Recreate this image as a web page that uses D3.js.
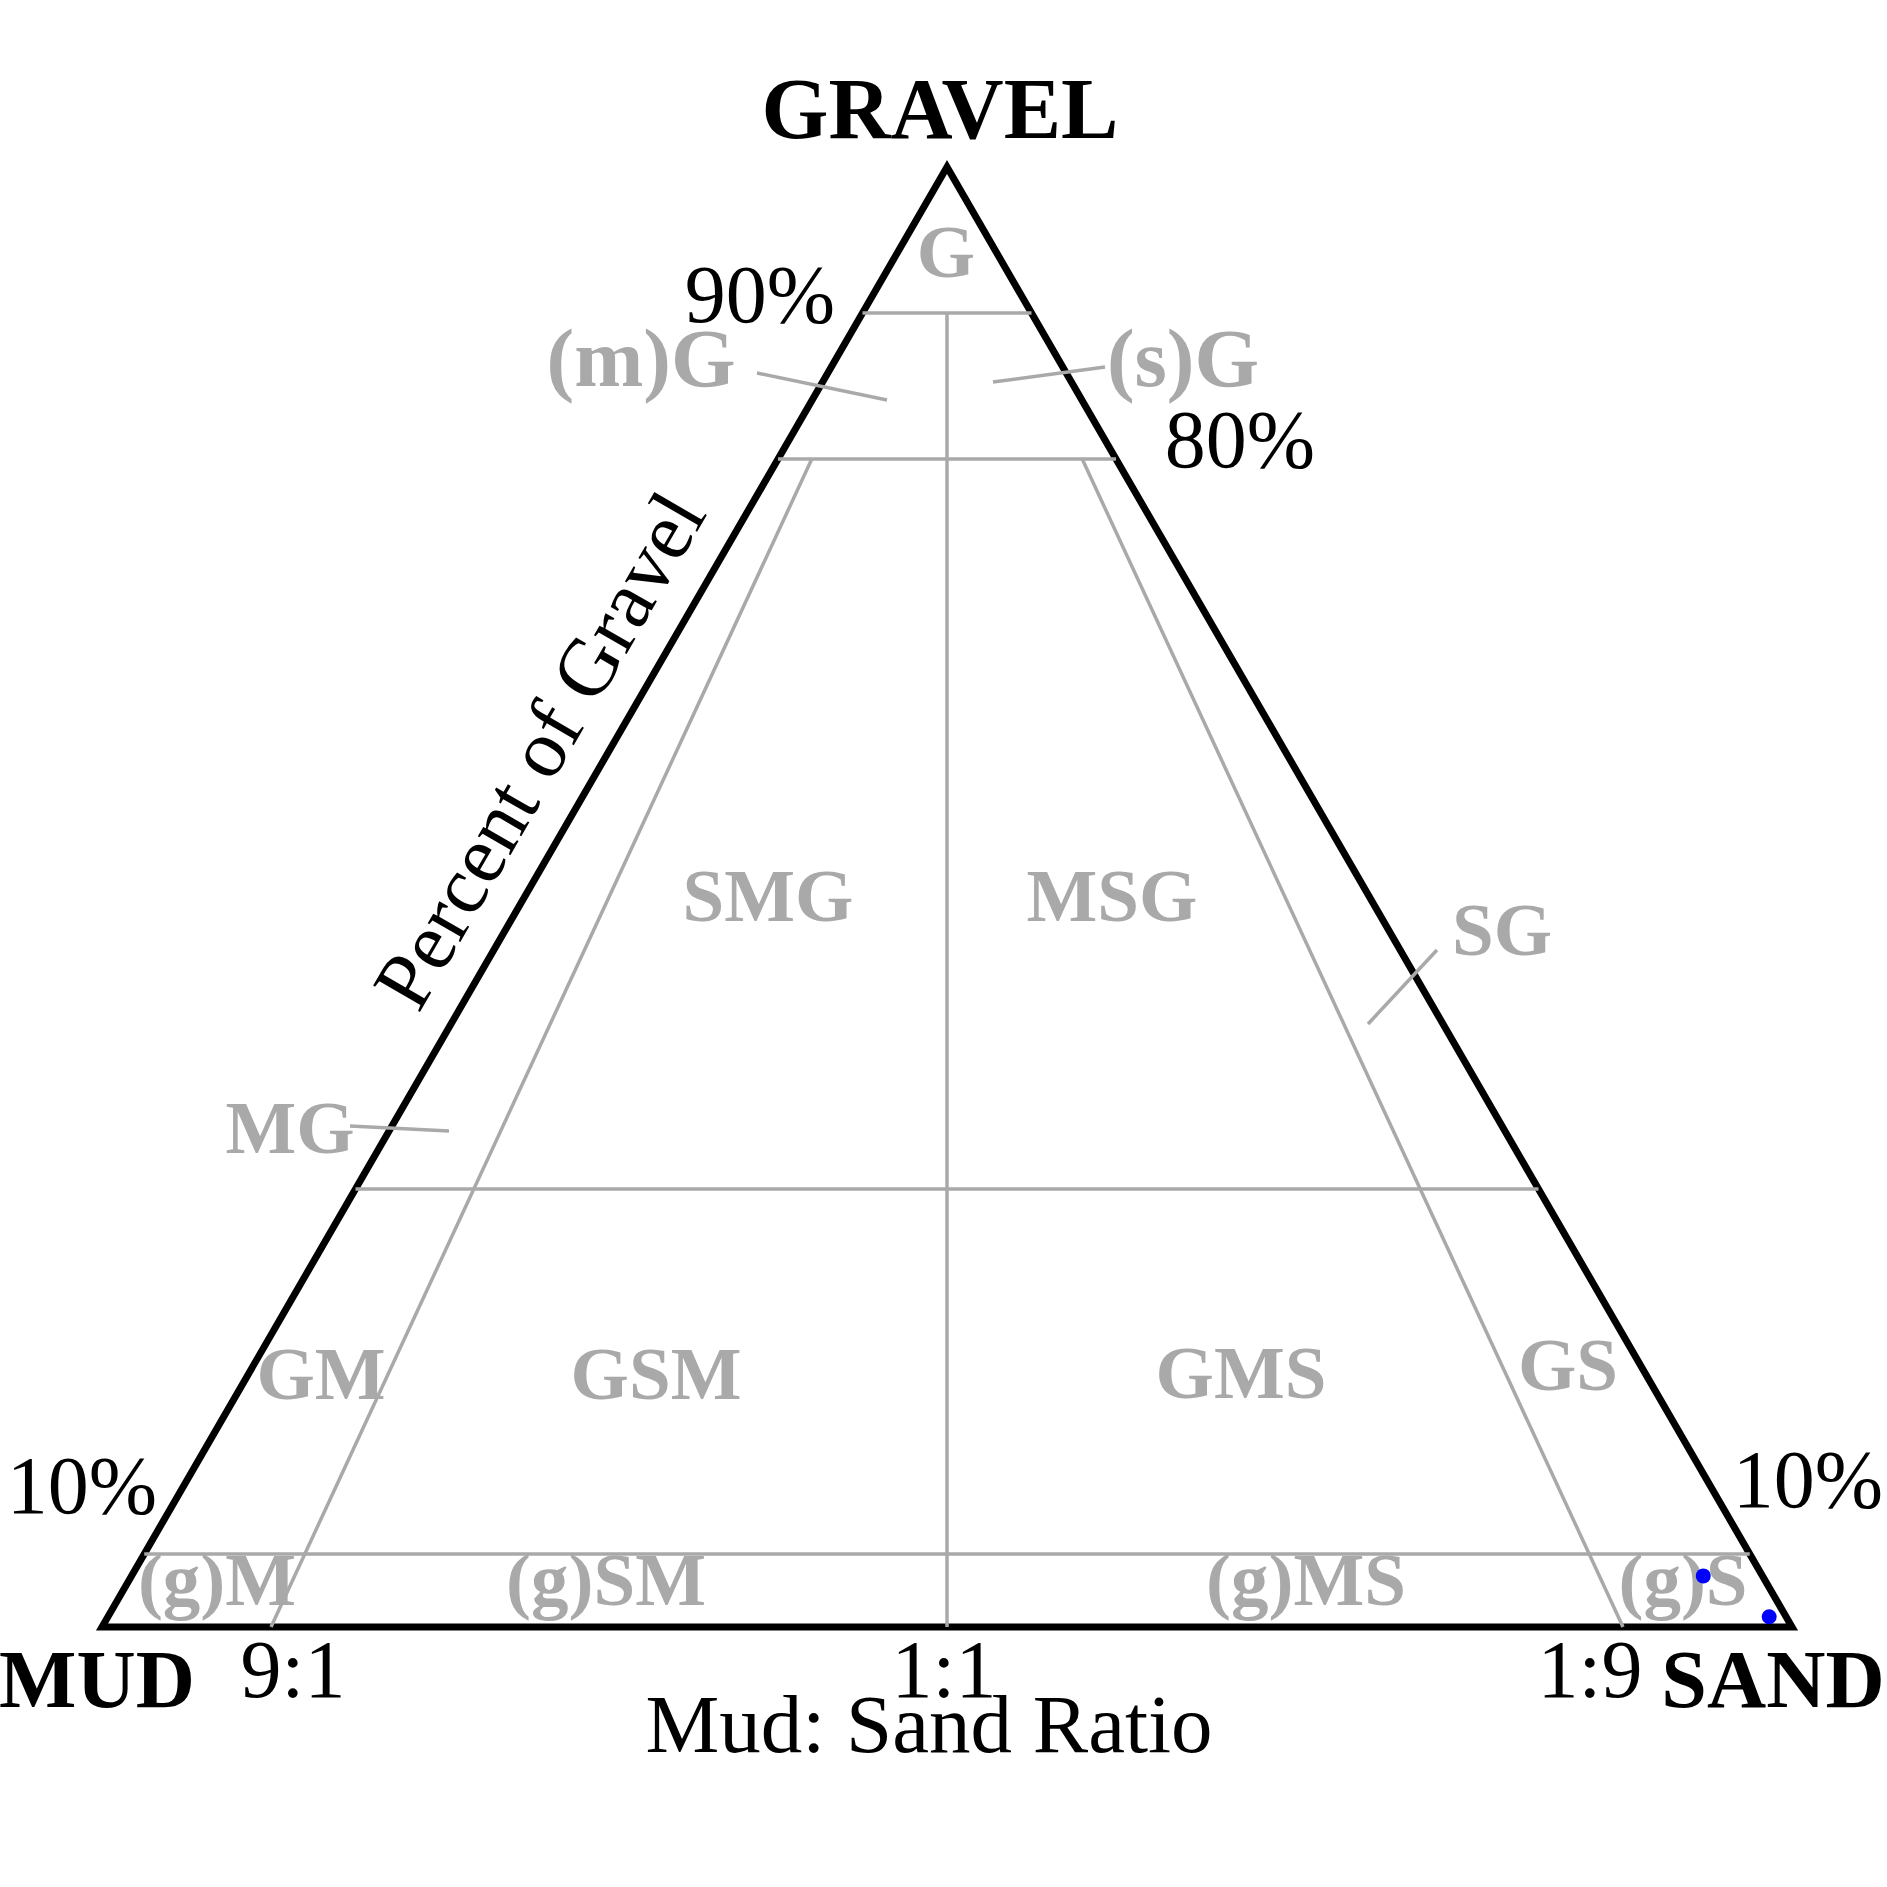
<!DOCTYPE html>
<html>
<head>
<meta charset="utf-8">
<script src="https://cdn.jsdelivr.net/npm/d3@7"></script>
<style>
  html, body { margin: 0; padding: 0; background: #fff; }
  svg { display: block; }
</style>
</head>
<body>
<script>
// ---------------- data ----------------
const vertexNames = ["GRAVEL", "MUD", "SAND"];
const gravelBoundaries = [0.9, 0.8, 0.3, 0.05];           // horizontal gravel-% lines
const gravelTickLabels = ["90%", "80%", "10%", "10%"];
const ratioNames = ["9:1", "1:1", "1:9"];
const ratioSandFraction = [0.1, 0.5, 0.9];                // sand/(sand+mud)
const ratioTopGravel = [0.8, 0.9, 0.8];                   // where each ratio line starts
const regionNames = ["G", "(m)G", "(s)G", "SMG", "MSG", "SG", "MG", "GM", "GSM", "GMS", "GS", "(g)M", "(g)SM", "(g)MS", "(g)S"];
const sampleGravel = [0.035, 0.007];
const sampleSand = [0.930, 0.983];
const sampleMud = [0.035, 0.010];
const axisTitleBottom = "Mud: Sand Ratio";
const axisTitleLeft = "Percent of Gravel";

// ---------------- layout ----------------
const W = 1887, H = 1887;
const GREY = "#a9a9a9";
const FONT = "'Liberation Serif', 'Times New Roman', Times, serif";

const svg = d3.select("body").append("svg").attr("width", W).attr("height", H);

// ternary -> cartesian via D3 scales
const xs = d3.scaleLinear().domain([0, 1]).range([102, 1792]);   // sand + gravel/2
const ys = d3.scaleLinear().domain([0, 1]).range([1627, 167]);   // gravel
const px = (g, s) => [xs(s + g / 2), ys(g)];                     // s = sand share of total

// outer triangle
const tri = [px(1, 0), px(0, 0), px(0, 1)];
svg.append("path")
  .attr("d", d3.line()(tri) + "Z")
  .attr("fill", "none").attr("stroke", "#000").attr("stroke-width", 7)
  .attr("stroke-linejoin", "miter");

const grid = svg.append("g").attr("stroke", GREY).attr("stroke-width", 3.5).attr("fill", "none");

// horizontal gravel lines (edge to edge)
gravelBoundaries.forEach(g => {
  const a = px(g, 0), b = px(g, 1 - g);
  grid.append("line").attr("x1", a[0]).attr("y1", a[1]).attr("x2", b[0]).attr("y2", b[1]);
});

// mud:sand ratio lines
ratioSandFraction.forEach((r, i) => {
  const gt = ratioTopGravel[i];
  const a = px(gt, (1 - gt) * r), b = px(0, r);
  grid.append("line").attr("x1", a[0]).attr("y1", a[1]).attr("x2", b[0]).attr("y2", b[1]);
});

// leader lines for small regions
const leaders = [
  [[757, 373], [887, 400]],
  [[993, 382], [1105, 367]],
  [[1368, 1024], [1437, 950]],
  [[350, 1126], [449, 1131]]
];
leaders.forEach(l => {
  grid.append("line").attr("x1", l[0][0]).attr("y1", l[0][1]).attr("x2", l[1][0]).attr("y2", l[1][1]);
});

// region labels
const regionPos = [
  [946, 277, 75], [641, 386, 83], [1183, 386, 83], [768, 921, 75], [1112, 921, 75], [1502, 955, 75], [290, 1153, 75],
  [321, 1399, 75], [656, 1399, 75], [1241, 1398, 75], [1568, 1390, 75], [217, 1605, 75], [606, 1605, 75], [1306, 1605, 75], [1683, 1605, 75]
];
svg.append("g").selectAll("text").data(regionNames).join("text")
  .attr("x", (d, i) => regionPos[i][0]).attr("y", (d, i) => regionPos[i][1])
  .attr("text-anchor", "middle")
  .attr("font-family", FONT).attr("font-weight", "bold")
  .attr("font-size", (d, i) => regionPos[i][2])
  .attr("fill", GREY).text(d => d);

// vertex labels
const vertexPos = [[940, 138, "middle", 86], [97, 1707, "middle", 82], [1773, 1707, "middle", 82]];
svg.append("g").selectAll("text").data(vertexNames).join("text")
  .attr("x", (d, i) => vertexPos[i][0]).attr("y", (d, i) => vertexPos[i][1])
  .attr("text-anchor", (d, i) => vertexPos[i][2])
  .attr("font-family", FONT).attr("font-weight", "bold")
  .attr("font-size", (d, i) => vertexPos[i][3])
  .attr("fill", "#000").text(d => d);

// gravel percentage tick labels
const gTickPos = [[835, 322, "end"], [1240, 467, "middle"], [82, 1513, "middle"], [1808, 1507, "middle"]];
svg.append("g").selectAll("text").data(gravelTickLabels).join("text")
  .attr("x", (d, i) => gTickPos[i][0]).attr("y", (d, i) => gTickPos[i][1])
  .attr("text-anchor", (d, i) => gTickPos[i][2])
  .attr("font-family", FONT).attr("font-size", 82).attr("fill", "#000").text(d => d);

// ratio tick labels under base
const ratioLabelX = [293, 944, 1590];
svg.append("g").selectAll("text").data(ratioNames).join("text")
  .attr("x", (d, i) => ratioLabelX[i]).attr("y", 1697)
  .attr("text-anchor", "middle")
  .attr("font-family", FONT).attr("font-size", 82).attr("fill", "#000").text(d => d);

// axis titles
svg.append("text").attr("x", 929).attr("y", 1752).attr("text-anchor", "middle")
  .attr("font-family", FONT).attr("font-size", 83).attr("fill", "#000").text(axisTitleBottom);

svg.append("text").attr("transform", "translate(563,764) rotate(-60)")
  .attr("text-anchor", "middle")
  .attr("font-family", FONT).attr("font-size", 82).attr("fill", "#000").text(axisTitleLeft);

// samples
svg.append("g").selectAll("circle").data(sampleGravel).join("circle")
  .attr("cx", (g, i) => px(g, sampleSand[i])[0])
  .attr("cy", (g, i) => px(g, sampleSand[i])[1])
  .attr("r", 7.5).attr("fill", "#0000ff");
</script>
</body>
</html>
